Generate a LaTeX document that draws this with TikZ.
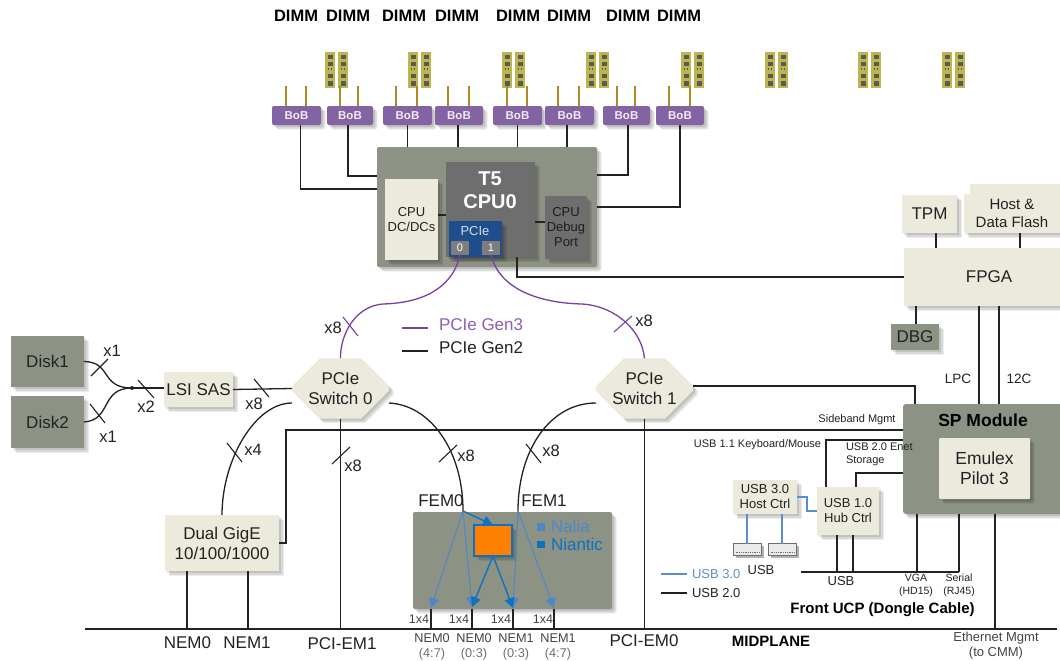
\documentclass[tikz,border=0pt]{standalone}
\usepackage{fontspec}
\setmainfont{Liberation Sans}
\usetikzlibrary{shadows,shapes.misc,arrows.meta,calc}
\definecolor{creamc}{HTML}{ECE9DD}
\definecolor{modc}{HTML}{8C9284}
\definecolor{darkc}{HTML}{6E6E6E}
\definecolor{pciec}{HTML}{1F4E8C}
\definecolor{bobc}{HTML}{8463A3}
\definecolor{purc}{HTML}{7B3FA8}
\definecolor{goldc}{HTML}{B08A20}
\definecolor{dimmc}{HTML}{BDB650}
\definecolor{chipc}{HTML}{5A5A50}
\definecolor{inkc}{HTML}{222222}
\definecolor{usbc}{HTML}{5B8FCC}
\definecolor{nalc}{HTML}{4F86C8}
\definecolor{niac}{HTML}{0D72C4}
\newcommand{\fs}[1]{\fontsize{#1}{#1}\selectfont}
\newcommand{\fsl}[2]{\fontsize{#1}{#2}\selectfont}
\tikzset{
  softsh/.style={
    general shadow={shadow xshift=4.5pt,shadow yshift=-4.5pt,fill=black,opacity=.07},
    general shadow={shadow xshift=3.5pt,shadow yshift=-3.5pt,fill=black,opacity=.09},
    general shadow={shadow xshift=2pt,shadow yshift=-2pt,fill=black,opacity=.10}},
  blk/.style={inner sep=0pt,outer sep=0pt,align=center,text=inkc,font=\fsl{17}{20}},
  cream/.style={blk,fill=creamc,softsh},
  modbox/.style={blk,fill=modc,softsh},
  darkbox/.style={blk,fill=darkc,softsh},
  bobbox/.style={blk,fill=bobc,rounded corners=2pt,softsh,minimum height=19pt,text=white!88!bobc,font=\fs{11.5}\bfseries},
  octa/.style={cream,chamfered rectangle,chamfered rectangle xsep=14pt,chamfered rectangle ysep=14pt,minimum width=97pt,minimum height=59pt},
  lab/.style={inner sep=0pt,outer sep=0pt,align=center,text=inkc},
  wire/.style={draw=inkc,line width=1.3pt},
  pwire/.style={draw=purc,line width=1.3pt},
  bwire/.style={draw=usbc,line width=1.3pt},
  stub/.style={draw=goldc,line width=1.2pt},
  tick/.style={draw=inkc,line width=1.1pt},
  ptick/.style={draw=purc,line width=1.1pt},
  nalarrow/.style={draw=nalc,line width=1pt,-{Triangle[width=10pt,length=10pt]}},
  niaarrow/.style={draw=niac,line width=1.4pt,-{Triangle[width=10pt,length=10pt]}},
  dimmhead/.style={lab,text=black,font=\fs{16.5}\bfseries},
  usbport/.style={inner sep=0pt,outer sep=0pt,fill=white!92!black,draw=darkc,line width=1.6pt,minimum width=28pt,minimum height=12pt,
    general shadow={shadow xshift=2pt,shadow yshift=-2pt,fill=black,opacity=.3}},
}
\newcommand{\dimmstick}[1]{%
  \fill[dimmc] (#1,52) rectangle ++(10,36);
  \foreach \yy in {55,62,74,81}{\fill[chipc] (#1+2.5,\yy) rectangle ++(5,4.5);}
  \fill[chipc] (#1+2.5,68.5) rectangle ++(1.4,2);
  \fill[chipc] (#1+5.6,68.5) rectangle ++(1.4,2);
}
\begin{document}
\begin{tikzpicture}[x=1pt,y=-1pt]
\useasboundingbox (0,0) rectangle (1060,661);
% DIMM headers
\foreach \xx/\nm in {296/1,348/2,404/3,457/4,518/5,569/6,628/7,679/8}{
  \node[dimmhead] (dimmh\nm) at (\xx,16) {DIMM};
}
% DIMM sticks
\foreach \xx in {325,408,502,586,681,765,858,942}{
  \dimmstick{\xx}
  \dimmstick{\xx+13}
}
% BoB
\node[bobbox,minimum width=49pt] (bob1) at (296.5,115.5) {BoB};
\node[bobbox,minimum width=46pt] (bob2) at (350,115.5) {BoB};
\node[bobbox,minimum width=49pt] (bob3) at (407.5,115.5) {BoB};
\node[bobbox,minimum width=48pt] (bob4) at (459,115.5) {BoB};
\node[bobbox,minimum width=49pt] (bob5) at (517.5,115.5) {BoB};
\node[bobbox,minimum width=49pt] (bob6) at (569.5,115.5) {BoB};
\node[bobbox,minimum width=47pt] (bob7) at (626.5,115.5) {BoB};
\node[bobbox,minimum width=48pt] (bob8) at (680,115.5) {BoB};
\foreach \bb/\xa/\xb in {bob1/286/306,bob2/340/358,bob3/396/417,bob4/448/469,bob5/507/527,bob6/558/579,bob7/617/635,bob8/669/690}{
  \draw[stub] (\xa,86) -- (\xa,106);
  \draw[stub] (\xb,86) -- (\xb,106);
}
% CPU block
\node[modbox,rounded corners=2pt,minimum width=220pt,minimum height=120pt] (cpu) at (487,207) {};
\node[cream,minimum width=53pt,minimum height=81pt,font=\fsl{13}{15}] (dcdc) at (411.5,219.5) {CPU\\DC/DCs};
\node[darkbox,minimum width=89pt,minimum height=95pt] (t5) at (490.5,209.5) {};
\node[lab,text=white,font=\fsl{20}{23}\bfseries] (t5lab) at (490,190) {T5\\CPU0};
\node[darkbox,minimum width=42pt,minimum height=63pt,font=\fsl{13}{15},text=inkc!85!black] (dbgp) at (566,227.5) {CPU\\Debug\\Port};
\node[blk,fill=pciec,softsh,minimum width=53pt,minimum height=36pt] (pcie) at (475.5,239) {};
\node[lab,text=white!80!pciec,font=\fs{13}] (pcielab) at (475,231) {PCIe};
\node[blk,fill=darkc!90!white,minimum width=18pt,minimum height=14pt,text=white,font=\fs{11}] (port0) at (460,248) {0};
\node[blk,fill=darkc!90!white,minimum width=18pt,minimum height=14pt,text=white,font=\fs{11}] (port1) at (491,248) {1};
\draw[wire] (dcdc.east |- 0,215) -- (t5.west |- 0,215);
\draw[wire] (t5.east |- 0,222) -- (dbgp.west |- 0,222);
% FPGA group
\fill[creamc] (970,184) rectangle (1060,196);
\node[cream,minimum width=96pt,minimum height=39pt,font=\fsl{15}{18}] (flash) at (1012,213.5) {Host \&\\Data Flash};
\node[cream,minimum width=55pt,minimum height=38pt] (tpm) at (929.5,214) {TPM};
\node[cream,minimum width=156pt,minimum height=58pt] (fpga) at (982,277) {\hspace*{14pt}FPGA};
\node[modbox,minimum width=48pt,minimum height=26pt] (dbg) at (915,337) {DBG};
% SP module
\node[modbox,rounded corners=3pt,minimum width=160pt,minimum height=110pt] (sp) at (983,459) {};
\node[lab,text=black,font=\fs{17.5}\bfseries] (splab) at (983,420) {SP Module};
\node[cream,minimum width=91pt,minimum height=61pt,rounded corners=1pt,font=\fsl{17.5}{20}] (emu) at (984.5,468.5) {Emulex\\Pilot 3};
% Disks etc
\node[modbox,minimum width=73pt,minimum height=51pt] (disk1) at (47.5,361.5) {Disk1};
\node[modbox,minimum width=73pt,minimum height=52pt] (disk2) at (47.5,422) {Disk2};
\node[cream,minimum width=69pt,minimum height=35pt] (lsi) at (198.5,389.5) {LSI SAS};
\node[octa] (sw0) at (340.5,388.5) {PCIe\\Switch 0};
\node[octa] (sw1) at (644.5,388.5) {PCIe\\Switch 1};
\node[cream,minimum width=114pt,minimum height=56pt] (gige) at (222,543) {Dual GigE\\10/100/1000};
% FEM
\node[modbox,rounded corners=2pt,minimum width=199pt,minimum height=97pt] (fem) at (512.5,560.5) {};
\node[blk,fill=orange!60!yellow,fill=orange,minimum width=38pt,minimum height=31pt,draw=niac,line width=1.5pt,softsh] (asic) at (493,540.5) {};
\node[lab,text=nalc,font=\fs{17},anchor=west] (nalia) at (551,526) {Nalia};
\node[lab,text=niac,font=\fs{17},anchor=west] (niantic) at (551,544) {Niantic};
\node[fill=nalc,minimum size=7.5pt,inner sep=0pt] (nalsq) at (541,527) {};
\node[fill=niac,minimum size=7.5pt,inner sep=0pt] (niasq) at (541,544.5) {};
% USB
\node[cream,minimum width=64pt,minimum height=34pt,font=\fsl{13}{15}] (host) at (765,497) {USB 3.0\\Host Ctrl};
\node[cream,minimum width=62pt,minimum height=48pt,font=\fsl{13}{15}] (hub) at (848,511) {USB 1.0\\Hub Ctrl};
\node[usbport] (usba) at (747.5,549.5) {};
\node[usbport] (usbb) at (782.5,549.5) {};
\foreach \pp in {usba,usbb}{
  \draw[darkc,line width=.8pt,densely dotted] ([xshift=2pt,yshift=3pt]\pp.south west) -- ([xshift=-2pt,yshift=3pt]\pp.south east);
}
% Coordinates
\coordinate (junc) at (132,388);
\coordinate (fem0pt) at (463,511);
\coordinate (fem1pt) at (518,511);
\coordinate (m0) at (383,304);
\coordinate (m1) at (582,304);
\coordinate (mid0) at (85,629);
\coordinate (mid1) at (1057,629);
\coordinate (drop1) at (431,608);
\coordinate (drop2) at (472,607);
\coordinate (drop3) at (513,608);
\coordinate (drop4) at (554,608);
\coordinate (dongleL) at (801,572);
\coordinate (dongleR) at (959,572);
\coordinate (leg1a) at (402,328);
\coordinate (leg1b) at (428,328);
\coordinate (leg2a) at (402,351);
\coordinate (leg2b) at (428,351);
\coordinate (leg3a) at (661,574);
\coordinate (leg3b) at (687,574);
\coordinate (leg4a) at (661,593);
\coordinate (leg4b) at (687,593);
% BoB to CPU
\draw[wire] ([xshift=4pt]bob1.south) |- (cpu.west |- 0,189);
\draw[wire] ([xshift=-2pt]bob2.south) |- (cpu.west |- 0,176);
\draw[wire] (bob3.south) -- (bob3.south |- cpu.north);
\draw[wire] ([xshift=-1pt]bob4.south) -- ([xshift=-1pt]bob4.south |- cpu.north);
\draw[wire] (bob5.south) -- (bob5.south |- cpu.north);
\draw[wire] ([xshift=-2.5pt]bob6.south) -- ([xshift=-2.5pt]bob6.south |- cpu.north);
\draw[wire] ([xshift=1.5pt]bob7.south) |- (cpu.east |- 0,175);
\draw[wire] (bob8.south) |- (cpu.east |- 0,207);
\draw[wire] (517,257) |- (fpga.west |- 0,277);
% FPGA
\draw[wire] (tpm.south -| 936,0) -- (fpga.north -| 936,0);
\draw[wire] (flash.south -| 1020,0) -- (fpga.north -| 1020,0);
\draw[wire] (fpga.south -| 916,0) -- (dbg.north -| 916,0);
\draw[wire] (fpga.south -| 979,0) -- (sp.north -| 979,0);
\draw[wire] (fpga.south -| 999,0) -- (sp.north -| 999,0);
% PCIe gen3
\draw[pwire] (port0.south) .. controls (452,290) and (420,303) .. (m0) .. controls (355,306) and (340,335) .. (sw0.north);
\draw[pwire] (port1.south) .. controls (500,290) and (540,303) .. (m1) .. controls (615,306) and (642,330) .. (sw1.north);
% Switch connections
\draw[wire] (disk1.east) .. controls (112,362) and (100,388) .. (junc);
\draw[wire] (disk2.east) .. controls (112,420) and (100,388) .. (junc);
\draw[wire] (junc) -- (lsi.west |- junc);
\fill[inkc] (junc) circle (2pt);
\draw[wire] (lsi.east) -- (sw0.west);
\draw[wire] ([yshift=-14.5pt]sw0.west) .. controls (255,403) and (222,460) .. (gige.north);
\draw[wire] ([yshift=-14.5pt]sw0.east) .. controls (430,405) and (463,450) .. (fem0pt);
\draw[wire] ([yshift=-14.5pt]sw1.west) .. controls (550,403) and (518,450) .. (fem1pt);
\draw[wire] (sw0.south) -- (sw0.south |- mid0);
\draw[wire] (sw1.south) -- (sw1.south |- mid0);
\draw[wire] (sw1.east |- 0,386) -| (sp.north -| 915,0);
\draw[wire] (sp.west |- 0,430) -| (286,543) -- (gige.east |- 0,543);
\draw[wire] (gige.south -| 187,0) -- (187,629);
\draw[wire] (gige.south -| 248,0) -- (248,629);
\draw[wire] (mid0) -- (mid1);
% Ticks
\draw[tick] (91,376) -- (108,359);
\draw[tick] (90,404) -- (105,423);
\draw[tick] (138,380) -- (154,398);
\draw[tick] (254,379) -- (269,397);
\draw[tick] (227,443) -- (242,462);
\draw[tick] (332,464) -- (350,447);
\draw[tick] (439,462) -- (457,445);
\draw[tick] (526,444) -- (541,463);
\draw[ptick] (343,317) -- (358,336);
\draw[ptick] (614,332) -- (632,316);
% FEM arrows
\draw[nalarrow] (fem0pt) -- (drop1);
\draw[nalarrow] (fem0pt) -- (drop2);
\draw[niaarrow] (fem0pt) -- (asic.north);
\draw[nalarrow] (fem1pt) -- (drop3);
\draw[nalarrow] (fem1pt) -- (drop4);
\draw[niaarrow] (asic.south) -- (drop2);
\draw[niaarrow] (asic.south) -- (drop3);
\foreach \dd in {drop1,drop2,drop3,drop4}{
  \draw[wire] (\dd |- fem.south) -- (\dd |- mid0);
}
% USB wires
\draw[wire] (sp.west |- 0,440) -| (hub.north -| 826,0);
\draw[wire] (sp.west |- 0,473) -| (hub.north -| 856,0);
\draw[bwire] (host.east |- 0,497) -- (807,497) |- (hub.west |- 0,511);
\draw[bwire] (host.south -| 747,0) -- (usba.north -| 747,0);
\draw[bwire] (host.south -| 782,0) -- (usbb.north -| 782,0);
\draw[wire] (hub.south -| 837,0) -- (837,572);
\draw[wire] (hub.south -| 853,0) -- (853,572);
\draw[wire] (dongleL) -- (dongleR);
\draw[wire] (sp.south -| 917,0) -- (917,572);
\draw[wire] (sp.south -| 959,0) -- (dongleR);
\draw[wire] (sp.south -| 995,0) -- (995,629);
% legends
\draw[pwire] (leg1a) -- (leg1b);
\draw[wire] (leg2a) -- (leg2b);
\draw[bwire] (leg3a) -- (leg3b);
\draw[wire] (leg4a) -- (leg4b);
\node[lab,text=purc!85!white,font=\fs{17},anchor=west] (gen3) at (439,325) {PCIe Gen3};
\node[lab,font=\fs{17},anchor=west] (gen2) at (439,348) {PCIe Gen2};
\node[lab,text=usbc,font=\fs{13},anchor=west] (u3t) at (692,574) {USB 3.0};
\node[lab,font=\fs{13},anchor=west] (u2t) at (692,593) {USB 2.0};
% Width labels
\node[lab,font=\fs{16.5}] (lx1a) at (112,351) {x1};
\node[lab,font=\fs{16.5}] (lx1b) at (108,437) {x1};
\node[lab,font=\fs{16.5}] (lx2) at (146,407) {x2};
\node[lab,font=\fs{16.5}] (lx8a) at (254,404) {x8};
\node[lab,font=\fs{16.5}] (lx4) at (253,450) {x4};
\node[lab,font=\fs{16.5}] (lx8b) at (353,466) {x8};
\node[lab,font=\fs{16.5}] (lx8c) at (333,328) {x8};
\node[lab,font=\fs{16.5}] (lx8d) at (644,321) {x8};
\node[lab,font=\fs{16.5}] (lx8e) at (466,456) {x8};
\node[lab,font=\fs{16.5}] (lx8f) at (551,451) {x8};
\node[lab,font=\fs{17}] (fem0l) at (441,501) {FEM0};
\node[lab,font=\fs{17}] (fem1l) at (544,501) {FEM1};
% 1x4 and NEM
\foreach \xx/\nm in {419/a,459/b,501/c,543/d}{
  \node[lab,font=\fs{12.5},text=inkc!85!white] (ox\nm) at (\xx,619) {1x4};
}
\node[lab,font=\fsl{12.7}{15},text=inkc!85!white] (nema) at (432,646.5) {NEM0\\{\color{darkc}(4:7)}};
\node[lab,font=\fsl{12.7}{15},text=inkc!85!white] (nemb) at (474,646.5) {NEM0\\{\color{darkc}(0:3)}};
\node[lab,font=\fsl{12.7}{15},text=inkc!85!white] (nemc) at (516,646.5) {NEM1\\{\color{darkc}(0:3)}};
\node[lab,font=\fsl{12.7}{15},text=inkc!85!white] (nemd) at (558,646.5) {NEM1\\{\color{darkc}(4:7)}};
\node[lab,font=\fs{17}] (bn0) at (187.5,643) {NEM0};
\node[lab,font=\fs{17}] (bn1) at (247,643) {NEM1};
\node[lab,font=\fs{17}] (bp1) at (342,644) {PCI-EM1};
\node[lab,font=\fs{17}] (bp0) at (644,641) {PCI-EM0};
\node[lab,text=black,font=\fs{15}\bfseries] (midl) at (771,641) {MIDPLANE};
\node[lab,font=\fsl{13}{15.5},text=inkc!85!white] (ethl) at (996,645.5) {Ethernet Mgmt\\(to CMM)};
\node[lab,text=black,font=\fs{15}\bfseries] (ucp) at (882.5,610) {Front UCP (Dongle Cable)};
% small labels
\node[lab,font=\fs{13.5}] (lpc) at (958,379) {LPC};
\node[lab,font=\fs{13.5}] (i2c) at (1019,379) {12C};
\node[lab,font=\fs{11}] (sideb) at (857,420) {Sideband Mgmt};
\node[lab,font=\fs{11}] (kbd) at (757.5,445) {USB 1.1 Keyboard/Mouse};
\node[lab,font=\fsl{11}{13},align=left,anchor=north west] (enet) at (846,443) {USB 2.0 Enet\\Storage};
\node[lab,font=\fs{13}] (usbl1) at (761,570) {USB};
\node[lab,font=\fs{13}] (usbl2) at (841,581) {USB};
\node[lab,font=\fsl{10.5}{13}] (vga) at (916,585.5) {VGA\\(HD15)};
\node[lab,font=\fsl{10.5}{13}] (ser) at (959,585.5) {Serial\\(RJ45)};
\end{tikzpicture}
\end{document}
